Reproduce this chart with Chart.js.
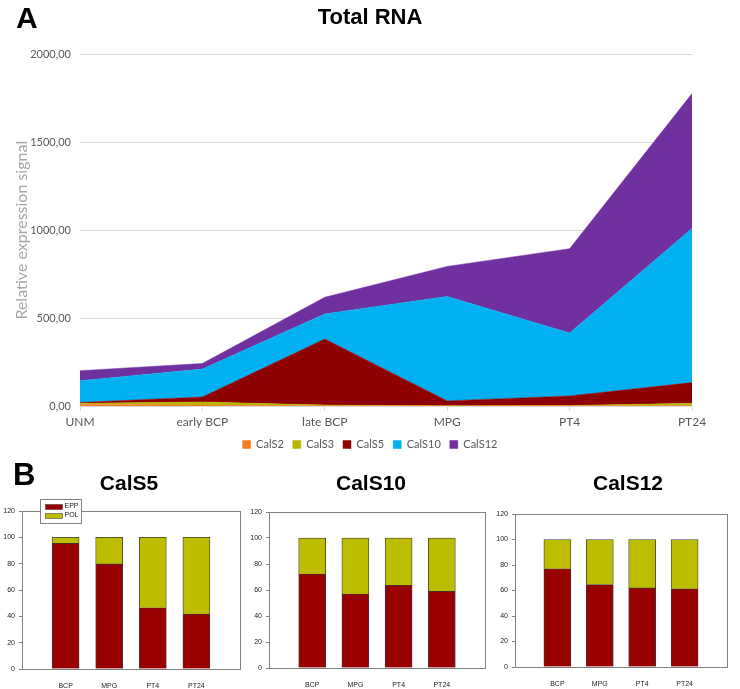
<!DOCTYPE html>
<html>
<head>
<meta charset="utf-8">
<script src="https://cdn.jsdelivr.net/npm/chart.js@4.4.0/dist/chart.umd.min.js"></script>
<style>
  html, body { margin: 0; padding: 0; background: #fff; }
  #wrap { position: relative; width: 740px; height: 689px; overflow: hidden; }
  canvas { position: absolute; }
  .lbl { position: absolute; font-family: "Liberation Sans", Arial, sans-serif; font-weight: bold; color: #000; white-space: nowrap; line-height: 1; }
  .ttl { position: absolute; font-family: "Liberation Sans", Arial, sans-serif; font-weight: bold; font-size: 21px; color: #000; white-space: nowrap; line-height: 1; transform: translateX(-50%); }
</style>
</head>
<body>
<div id="wrap">
  <canvas id="cA" style="left:0;top:0" width="740" height="460"></canvas>
  <canvas id="c5" style="left:0;top:490px" width="245" height="199"></canvas>
  <canvas id="c10" style="left:245px;top:490px" width="245" height="199"></canvas>
  <canvas id="c12" style="left:490px;top:490px" width="250" height="199"></canvas>
  <div class="lbl" style="left:16px;top:3px;font-size:30px;">A</div>
  <div class="lbl" style="left:13px;top:459px;font-size:31px;">B</div>
  <div class="ttl" style="left:129px;top:472px;">CalS5</div>
  <div class="ttl" style="left:371px;top:472px;">CalS10</div>
  <div class="ttl" style="left:628px;top:472px;">CalS12</div>
</div>
<script>
// ---------- Panel A data ----------
const stagesA = ['UNM', 'early BCP', 'late BCP', 'MPG', 'PT4', 'PT24'];
const seriesNamesA = ['CalS2', 'CalS3', 'CalS5', 'CalS10', 'CalS12'];
const cals2 = [10, 5, 2, 1, 1, 2];
const cals3 = [5, 18, 3, 1, 2, 13];
const cals5 = [5, 28, 376, 27, 54, 118];
const cals10 = [124, 159, 143, 594, 358, 877];
const cals12 = [57, 32, 95, 171, 480, 767];
const yTicksA = [0, 500, 1000, 1500, 2000];

// ---------- Panel B data ----------
const stagesB = ['BCP', 'MPG', 'PT4', 'PT24'];
const fractionNames = ['EPP', 'POL'];
const eppS5 = [95.5, 79.8, 46.5, 41.7];
const polS5 = [4.5, 20.2, 53.5, 58.3];
const eppS10 = [72.3, 56.9, 63.6, 59.0];
const polS10 = [27.7, 43.1, 36.4, 41.0];
const eppS12 = [77.0, 64.7, 62.0, 61.3];
const polS12 = [23.0, 35.3, 38.0, 38.7];
const yTicksB = [0, 20, 40, 60, 80, 100, 120];

const colorsA = ['#F07F22', '#B5B500', '#8E0000', '#00B0F0', '#7030A0'];
const colorsB = ['#990000', '#BDBD00'];

// ---------- Panel A chart ----------
const valuesA = [cals2, cals3, cals5, cals10, cals12];
new Chart(document.getElementById('cA'), {
  type: 'line',
  data: {
    labels: stagesA,
    datasets: seriesNamesA.map((n, i) => ({
      label: n,
      data: valuesA[i],
      backgroundColor: colorsA[i],
      borderColor: colorsA[i],
      borderWidth: 0.5,
      pointRadius: 0,
      tension: 0,
      fill: i === 0 ? 'origin' : '-1'
    }))
  },
  options: {
    responsive: false,
    animation: false,
    layout: { padding: { left: 0, right: 0, top: 0, bottom: 0 } },
    plugins: {
      title: {
        display: true,
        text: 'Total RNA',
        font: { family: '"Liberation Sans", Arial, sans-serif', size: 22, weight: 'bold' },
        color: '#000',
        padding: { top: 5, bottom: 23 }
      },
      legend: {
        position: 'bottom',
        labels: {
          font: { family: 'Lato, sans-serif', size: 11 },
          color: '#595959',
          boxWidth: 8, boxHeight: 8, padding: 9
        }
      },
      tooltip: { enabled: false }
    },
    scales: {
      x: {
        offset: false,
        grid: { display: true, drawOnChartArea: false, drawTicks: true, tickLength: 5, color: '#d9d9d9' },
        border: { color: '#d9d9d9' },
        ticks: { font: { family: 'Lato, sans-serif', size: 12 }, color: '#595959', padding: 4, maxRotation: 0 },
        afterFit: s => { s.height = 24; }
      },
      y: {
        stacked: true,
        min: 0, max: 2000,
        afterBuildTicks: s => { s.ticks = yTicksA.map(v => ({ value: v })); },
        grid: { color: '#d9d9d9', drawTicks: false },
        border: { display: false },
        ticks: {
          font: { family: 'Lato, sans-serif', size: 11 }, color: '#595959', padding: 9,
          callback: v => v.toFixed(2).replace('.', ',')
        },
        title: {
          display: true, text: 'Relative expression signal',
          font: { family: 'Lato, sans-serif', size: 16 }, color: '#A6A6A6',
          padding: { top: 12, bottom: 0 }
        },
        afterFit: s => { s.width = 80; }
      },
      yRight: {
        position: 'right',
        display: true,
        grid: { display: false },
        border: { display: false },
        ticks: { display: false },
        afterFit: s => { s.width = 48; }
      }
    }
  }
});

// ---------- Panel B charts ----------
const framePlugin = {
  id: 'frame',
  beforeDatasetsDraw(chart) {
    const a = chart.chartArea, ctx = chart.ctx;
    ctx.save();
    ctx.strokeStyle = '#808080';
    ctx.lineWidth = 1;
    ctx.strokeRect(Math.round(a.left) + 0.5, Math.round(a.top) + 0.5, Math.round(a.right - a.left), Math.round(a.bottom - a.top));
    ctx.restore();
  }
};

const boxLegendPlugin = {
  id: 'boxLegend',
  afterDraw(chart, args, opts) {
    if (!opts || !opts.show) return;
    const a = chart.chartArea, ctx = chart.ctx;
    const x = Math.round(a.left) + 18.5, y = Math.round(a.top) - 11.5;
    ctx.save();
    ctx.fillStyle = '#fff';
    ctx.fillRect(x, y, 41, 24);
    ctx.strokeStyle = '#808080';
    ctx.lineWidth = 1;
    ctx.strokeRect(x, y, 41, 24);
    ctx.font = '7px "Liberation Sans", Arial, sans-serif';
    ctx.textBaseline = 'middle';
    chart.data.datasets.forEach((d, i) => {
      const cy = y + 7 + i * 9;
      ctx.fillStyle = d.backgroundColor;
      ctx.fillRect(x + 5, cy - 2, 17, 5);
      ctx.strokeStyle = '#333';
      ctx.lineWidth = 0.5;
      ctx.strokeRect(x + 5, cy - 2, 17, 5);
      ctx.fillStyle = '#222';
      ctx.fillText(d.label, x + 24, cy);
    });
    ctx.restore();
  }
};

function barChart(id, epp, pol, pad, yWidth, xHeight, showLegend) {
  const labels = [''].concat(stagesB, ['']);
  const vals = [epp, pol];
  return new Chart(document.getElementById(id), {
    type: 'bar',
    data: {
      labels: labels,
      datasets: fractionNames.map((n, i) => ({
        label: n,
        data: [null].concat(vals[i], [null]),
        backgroundColor: colorsB[i],
        borderColor: '#3a3a3a',
        borderWidth: 0.8,
        borderSkipped: 'bottom',
        barThickness: 27
      }))
    },
    plugins: [framePlugin, boxLegendPlugin],
    options: {
      responsive: false,
      animation: false,
      layout: { padding: pad },
      plugins: {
        legend: { display: false },
        tooltip: { enabled: false },
        boxLegend: { show: showLegend }
      },
      scales: {
        x: {
          stacked: true,
          offset: false,
          grid: { display: false },
          border: { display: false },
          ticks: { font: { family: '"Liberation Sans", Arial, sans-serif', size: 7 }, color: '#222', padding: 5, maxRotation: 0, autoSkip: false },
          afterFit: s => { s.height = xHeight; }
        },
        y: {
          stacked: true,
          min: 0, max: 120,
          afterBuildTicks: s => { s.ticks = yTicksB.map(v => ({ value: v })); },
          grid: { display: true, drawOnChartArea: false, tickLength: 3, color: '#808080' },
          border: { display: false },
          ticks: { font: { family: '"Liberation Sans", Arial, sans-serif', size: 7 }, color: '#222', padding: 4 },
          afterFit: s => { s.width = yWidth; }
        }
      }
    }
  });
}

barChart('c5', eppS5, polS5, { top: 21, right: 2, left: 0, bottom: 0 }, 22, 20, true);
barChart('c10', eppS10, polS10, { top: 22, right: 3, left: 0, bottom: 0 }, 24, 21, false);
barChart('c12', eppS12, polS12, { top: 24, right: 13, left: 0, bottom: 0 }, 25, 22, false);
</script>
</body>
</html>
